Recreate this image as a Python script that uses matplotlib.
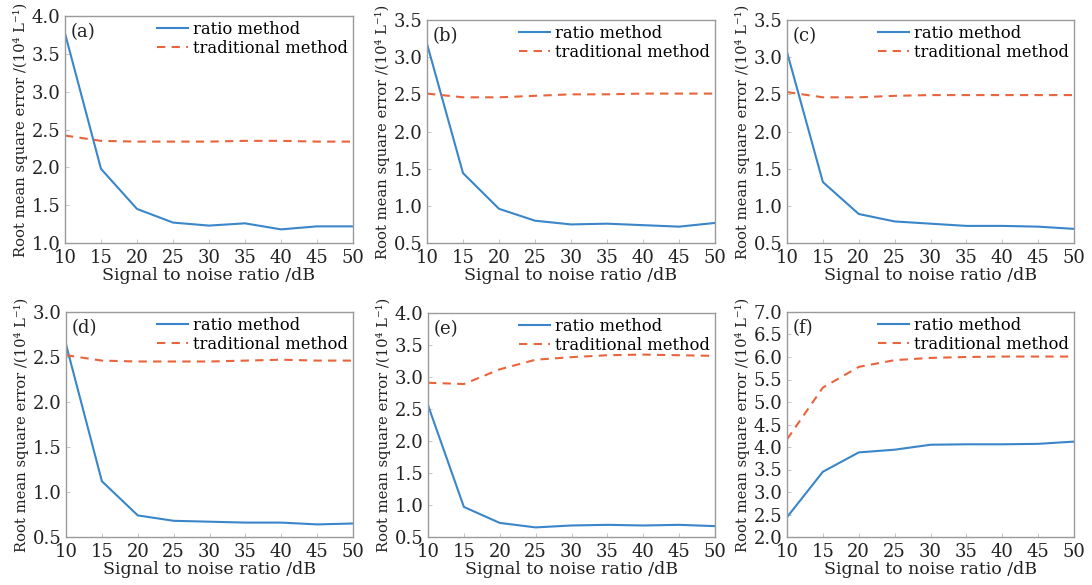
import matplotlib
matplotlib.use("Agg")
import matplotlib.pyplot as plt

snr = [10, 15, 20, 25, 30, 35, 40, 45, 50]

ratio_a = [3.77, 1.98, 1.45, 1.27, 1.23, 1.26, 1.18, 1.22, 1.22]
trad_a = [2.42, 2.35, 2.34, 2.34, 2.34, 2.35, 2.35, 2.34, 2.34]

ratio_b = [3.18, 1.44, 0.96, 0.80, 0.75, 0.76, 0.74, 0.72, 0.77]
trad_b = [2.51, 2.46, 2.46, 2.48, 2.50, 2.50, 2.51, 2.51, 2.51]

ratio_c = [3.07, 1.32, 0.89, 0.79, 0.76, 0.73, 0.73, 0.72, 0.69]
trad_c = [2.53, 2.46, 2.46, 2.48, 2.49, 2.49, 2.49, 2.49, 2.49]

ratio_d = [2.64, 1.12, 0.74, 0.68, 0.67, 0.66, 0.66, 0.64, 0.65]
trad_d = [2.52, 2.46, 2.45, 2.45, 2.45, 2.46, 2.47, 2.46, 2.46]

ratio_e = [2.56, 0.97, 0.72, 0.65, 0.68, 0.69, 0.68, 0.69, 0.67]
trad_e = [2.91, 2.89, 3.12, 3.27, 3.31, 3.34, 3.35, 3.34, 3.33]

ratio_f = [2.44, 3.45, 3.88, 3.94, 4.05, 4.06, 4.06, 4.07, 4.12]
trad_f = [4.17, 5.32, 5.78, 5.93, 5.98, 6.00, 6.01, 6.01, 6.01]

panel_labels = ["(a)", "(b)", "(c)", "(d)", "(e)", "(f)"]
ylims = [(1.0, 4.0), (0.5, 3.5), (0.5, 3.5), (0.5, 3.0), (0.5, 4.0), (2.0, 7.0)]
ratios = [ratio_a, ratio_b, ratio_c, ratio_d, ratio_e, ratio_f]
trads = [trad_a, trad_b, trad_c, trad_d, trad_e, trad_f]

xlabel = "Signal to noise ratio /dB"
ylabel = "Root mean square error /(10\u2074 L\u207b\u00b9)"
legend_labels = ["ratio method", "traditional method"]

plt.rcParams['font.family'] = ['DejaVu Serif']

W, H = 1092, 585
fig = plt.figure(figsize=(W / 100, H / 100), dpi=100)

# axes boxes in pixels: left, top, right, bottom
boxes = [
    (65, 16, 353, 243),
    (427, 20, 715, 243),
    (787, 20, 1074, 243),
    (66, 312, 353, 537),
    (428, 313, 715, 537),
    (787, 312, 1074, 537),
]

blue = "#3a86c8"
red = "#e8643c"
frame = "#9a9a9a"
txt = "#222222"

for i in range(6):
    l, t, r, b = boxes[i]
    ax = fig.add_axes([l / W, 1 - b / H, (r - l) / W, (b - t) / H])
    ax.plot(snr, ratios[i], color=blue, lw=1.5, label=legend_labels[0])
    ax.plot(snr, trads[i], color=red, lw=1.5, ls=(0, (4, 3)), label=legend_labels[1])
    ax.set_xlim(10, 50)
    ax.set_ylim(*ylims[i])
    ax.set_xticks(snr)
    lo, hi = ylims[i]
    n = int(round((hi - lo) / 0.5))
    ax.set_yticks([lo + 0.5 * k for k in range(n + 1)])
    ax.yaxis.set_major_formatter(matplotlib.ticker.FormatStrFormatter('%.1f'))
    for s in ax.spines.values():
        s.set_color(frame)
        s.set_linewidth(1.0)
    ax.tick_params(direction='in', length=3, width=0.6, color="#bbbbbb",
                   labelsize=13, labelcolor=txt)
    ax.tick_params(axis='x', pad=4.5)
    ax.tick_params(axis='y', pad=3.5)
    ax.set_xlabel(xlabel, fontsize=12.5, labelpad=0, color=txt)
    ax.set_ylabel(ylabel, fontsize=10.6, labelpad=2, color=txt)
    ax.text(0.02, 0.97, panel_labels[i], transform=ax.transAxes, fontsize=13,
            va='top', ha='left', color=txt)
    ax.legend(loc='upper right', frameon=False, fontsize=11.8, handlelength=1.9,
              handletextpad=0.3, borderaxespad=0.0, labelspacing=0.1,
              borderpad=0.3)

fig.savefig("out.png", dpi=100)
